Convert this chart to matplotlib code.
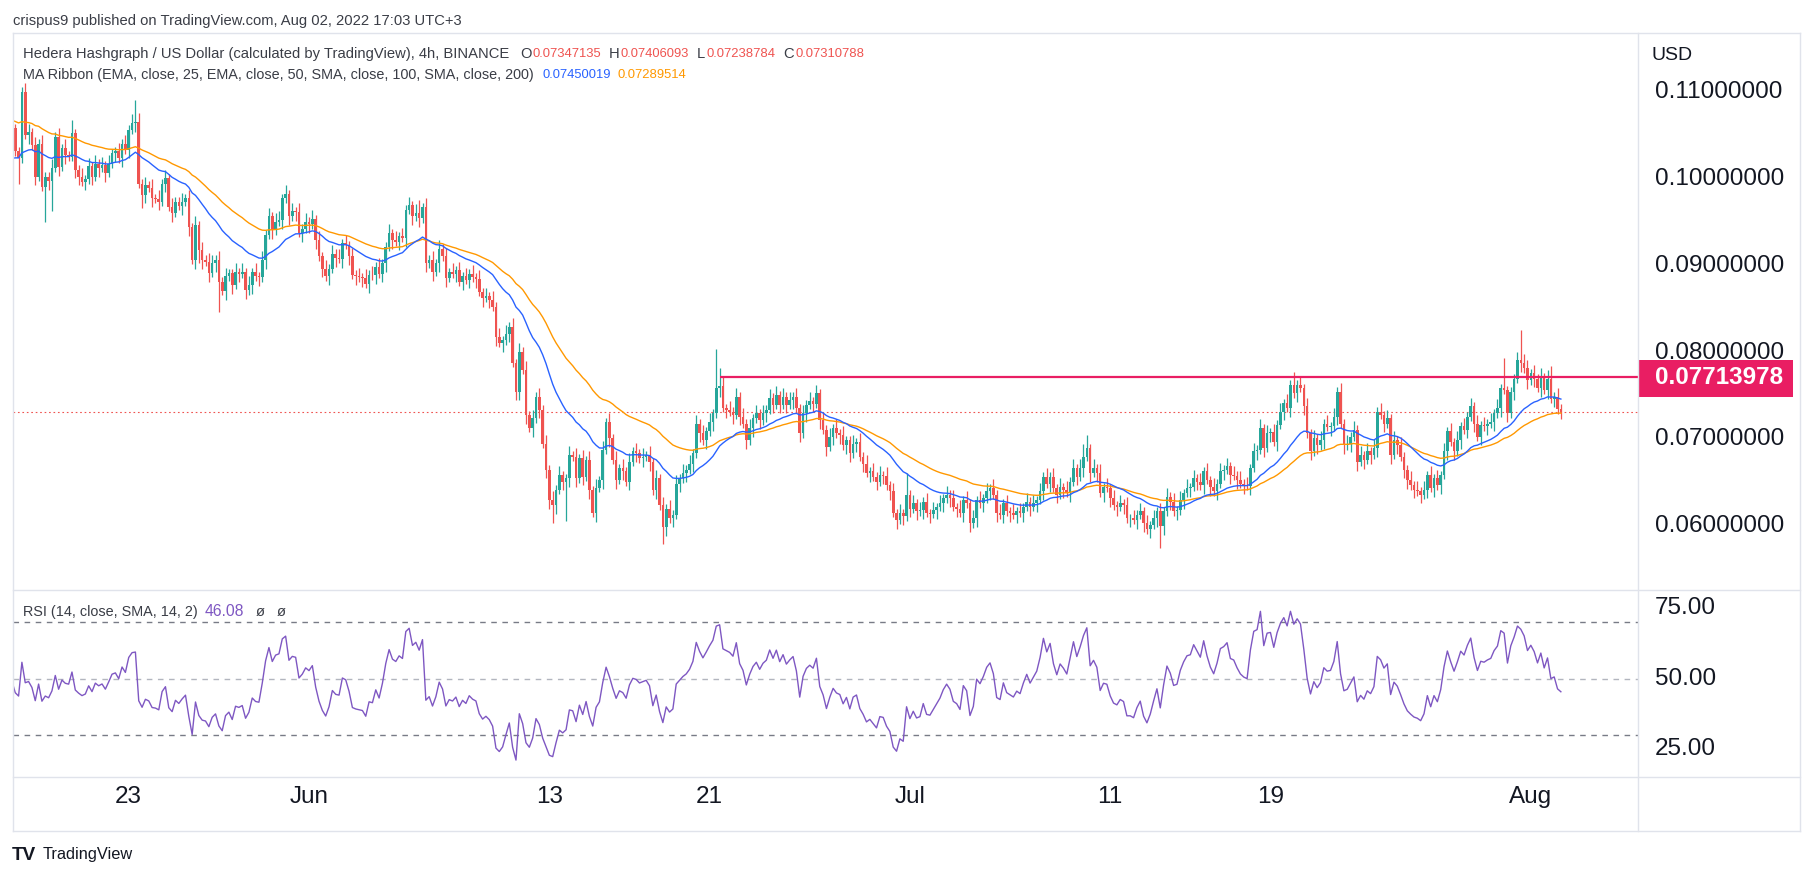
import numpy as np
import matplotlib
matplotlib.use("Agg")
import matplotlib.pyplot as plt
import matplotlib.dates as mdates
from matplotlib.lines import Line2D
from matplotlib.patches import Rectangle
from datetime import datetime, timedelta

plt.rcParams['font.family'] = ['Liberation Sans', 'DejaVu Sans']

# ---------------- data (4h candles, HBAR/USD) ----------------
# closes in units of 0.0001 USD, one value per 4h candle
CLOSE_MAY = [1059, 1032, 1024, 1101, 1051, 1054, 1039, 1003, 1041, 991,
             1003, 998, 1013, 1049, 1014, 1036, 1028, 1026, 1053, 1011,
             1003, 997, 1000, 1015, 1003, 1018, 1013, 1016, 1007, 1018,
             1030, 1032, 1024, 1041, 1034, 1057, 1065, 1066, 995, 982,
             993, 990, 978, 977, 974, 995, 1001, 968, 961, 974,
             969, 974, 978, 945, 907, 947, 918, 907, 905, 892,
             903, 907, 882, 871, 888, 892, 878, 893, 891, 893,
             872, 878, 893, 888, 887, 907, 936, 957, 941, 951,
             953, 978]
CLOSE_JUN_A = [983, 957, 963, 962, 938, 943, 951, 948, 954, 930,
               911, 897, 888, 897, 914, 909, 908, 926, 924, 911,
               890, 888, 887, 886, 879, 890, 889, 899, 891, 903,
               922, 938, 930, 928, 934, 932, 965, 970, 957, 961,
               955, 968, 903, 907, 893, 903, 920, 911, 886, 893,
               891, 895, 882, 888, 884, 891, 887, 885, 870, 863,
               865, 861, 853, 818, 811, 814, 822, 830, 788, 755,
               801, 780, 728, 713, 724, 749, 734, 695, 665, 630,
               624, 642, 659, 651]
CLOSE_JUN_B = [655, 682, 680, 655, 678, 657, 676, 641, 615, 644,
               653, 688, 720, 701, 676, 653, 667, 663, 651, 674,
               686, 684, 678, 680, 682, 674, 641, 655, 624, 599,
               620, 609, 613, 649, 655, 661, 665, 672, 684, 718,
               707, 699, 709, 720, 730, 759, 762, 736, 734, 732,
               728, 749, 726, 718, 699, 713, 724, 730, 722, 730,
               734, 748, 740, 751, 740, 749, 740, 745, 749, 736,
               707, 730, 740, 744, 741, 753, 722, 711, 691, 703,
               713, 707, 705, 693, 699]
CLOSE_JUL_A = [684, 695, 697, 680, 672, 661, 663, 657, 651, 659,
               658, 647, 640, 615, 607, 615, 611, 636, 620, 626,
               617, 618, 628, 615, 614, 618, 622, 626, 632, 636,
               632, 622, 620, 615, 630, 626, 603, 609, 630, 626,
               632, 640, 644, 636, 615, 613, 626, 617, 615, 613,
               617, 615, 622, 628, 622, 626, 630, 640, 657, 649,
               657, 644, 636, 645, 642, 638, 651, 667, 657, 667,
               680, 690, 661, 667, 661, 638, 645, 644, 632, 624,
               622, 626, 624, 609]
CLOSE_JUL_B = [609, 607, 613, 617, 603, 596, 601, 609, 617, 600,
               617, 634, 628, 617, 618, 630, 638, 644, 645, 655,
               651, 647, 663, 653, 645, 640, 649, 663, 665, 669,
               659, 658, 653, 649, 647, 646, 667, 686, 688, 713,
               690, 707, 708, 697, 717, 732, 742, 736, 763, 753,
               763, 759, 738, 707, 686, 701, 693, 699, 718, 714,
               715, 726, 755, 718, 693, 695, 703, 711, 674, 682,
               676, 686, 682, 690, 732, 728, 718, 724, 682, 699,
               693, 680, 665]
CLOSE_JUL_C = [653, 647, 642, 640, 636, 642, 659, 644, 655, 647,
               659, 686, 709, 697, 686, 699, 715, 711, 726, 738,
               718, 703, 716, 715, 718, 720, 730, 736, 759, 757,
               730, 755, 770, 791, 788, 782, 768, 776, 770, 759,
               772, 757, 770, 747, 749, 734.7135, 731.0788]
OPEN_FIRST = 1064
LAST_HIGH = 0.07406093
LAST_LOW = 0.07238784
LAST_CANDLE = datetime(2022, 8, 2, 12)

# wick lengths per candle, in units of WICK_UNIT
WICK_UNIT = 0.0005
UPPER_WICK = ("6111221212 1121212131 1212121212 1121212521 2121212121 1212121212 2121211212 1212121212 21"
              "2121212121 2121212121 2121212121 1212121212 3121212121 2121212121 2121212121 2121212121 2121"
              "1212121212 1212121212 1212121212 1212121212 1212194212 1212121212 1212121212 1212121212 12121"
              "1212121212 1212121512 1212121212 1212121212 1212121212 1212121212 1212121212 3312121212 1212"
              "1212121212 1212121212 1212121212 1212121212 1212121213 1212121212 1212121212 1212121212 121"
              "1212121212 1212121212 1212121217 1112722121 2123121")
LOWER_WICK = ("1161121211 8271212112 2121212121 1212121213 2121212121 1212123212 1271212121 2121212121 12"
              "1212121212 1212121212 1212121212 2121212121 2121212121 1212121212 1212121212 2121212122 4212"
              "9212121212 1212121212 1212121214 2121212121 2121212121 2121212121 2121212121 2121212121 21212"
              "2121212121 2121212121 2121212121 2121212121 2121212121 2121212121 2121212121 2121212121 2121"
              "2121212125 2121212121 2121212121 2121212121 2121212121 2121212121 2121212121 2121212121 212"
              "2121212121 2121212121 2121212121 2121212121 2121212")

EMA25_START = 0.1024
EMA50_START = 0.1068
RSI_SEED_GAIN = 0.0012
RSI_SEED_LOSS = 0.0012
RESISTANCE = 0.07713978
RESISTANCE_FROM = datetime(2022, 6, 21, 12)
LAST_PRICE = 0.07310788

PRICE_TICKS = [0.06, 0.07, 0.08, 0.09, 0.10, 0.11]
RSI_TICKS = [25, 50, 75]
DATE_TICKS = [datetime(2022, 5, 23), datetime(2022, 6, 1), datetime(2022, 6, 13),
              datetime(2022, 6, 21), datetime(2022, 7, 1), datetime(2022, 7, 11),
              datetime(2022, 7, 19), datetime(2022, 8, 1)]
DATE_LABELS = ["23", "Jun", "13", "21", "Jul", "11", "19", "Aug"]

# ---------------- derived series ----------------
closes = np.array(CLOSE_MAY + CLOSE_JUN_A + CLOSE_JUN_B + CLOSE_JUL_A + CLOSE_JUL_B + CLOSE_JUL_C) / 1e4
n = len(closes)
times = [LAST_CANDLE - timedelta(hours=4 * (n - 1 - k)) for k in range(n)]
tnum = mdates.date2num(times)
opens = np.concatenate([[OPEN_FIRST / 1e4], closes[:-1]])
upw = np.array([int(c) for c in UPPER_WICK.replace(" ", "")], dtype=float)[:n] * WICK_UNIT
dnw = np.array([int(c) for c in LOWER_WICK.replace(" ", "")], dtype=float)[:n] * WICK_UNIT
if len(upw) < n:
    upw = np.concatenate([upw, np.full(n - len(upw), WICK_UNIT)])
if len(dnw) < n:
    dnw = np.concatenate([dnw, np.full(n - len(dnw), WICK_UNIT)])
highs = np.maximum(opens, closes) + upw
lows = np.minimum(opens, closes) - dnw
highs[-1] = LAST_HIGH
lows[-1] = LAST_LOW


def ema(values, length, start):
    a = 2.0 / (length + 1)
    out = np.empty_like(values)
    e = start
    for k, v in enumerate(values):
        if k > 0:
            e = e + a * (v - e)
        out[k] = e
    return out


ema25 = ema(closes, 25, EMA25_START)
ema50 = ema(closes, 50, EMA50_START)

chg = np.diff(np.concatenate([[opens[0]], closes]))
ag, al = RSI_SEED_GAIN, RSI_SEED_LOSS
rsi = np.empty(n)
for k in range(n):
    g = max(chg[k], 0.0)
    l = max(-chg[k], 0.0)
    ag += (g - ag) / 14.0
    al += (l - al) / 14.0
    rsi[k] = 100 - 100 / (1 + ag / al)

# ---------------- layout ----------------
W, H = 1813, 876
fig = plt.figure(figsize=(W / 100, H / 100), dpi=100)
fig.patch.set_facecolor("white")


def fx(px):
    return px / W


def fy(py):
    return 1 - py / H


L, R = 12.7, 1638.0
TOP, MID, BOT, AXB = 33.3, 590.0, 777.0, 831.0
ax = fig.add_axes([fx(L), fy(MID), (R - L) / W, (MID - TOP) / H])
axr = fig.add_axes([fx(L), fy(BOT), (R - L) / W, (BOT - MID) / H])

jun1 = mdates.date2num(datetime(2022, 6, 1))
PX_PER_DAY = 20.03
X_JUN1 = 309.0
xlim = (jun1 + (L - X_JUN1) / PX_PER_DAY, jun1 + (R - X_JUN1) / PX_PER_DAY)
for a in (ax, axr):
    a.set_xlim(*xlim)
    a.set_axis_off()
ax.set_ylim(0.06 - (MID - 526) / 8670, 0.06 + (526 - TOP) / 8670)
axr.set_ylim(50 - (BOT - 678.8) / 2.825, 50 + (678.8 - MID) / 2.825)

GREEN, RED = "#26a69a", "#ef5350"
cols = np.where(closes >= opens, GREEN, RED)
bw = 0.78 * 4 / 24
ax.vlines(tnum, lows, highs, colors=cols, lw=0.9, zorder=2)
hgt = np.maximum(np.abs(closes - opens), 0.00005)
ax.bar(tnum, hgt, bottom=np.minimum(opens, closes), width=bw, color=cols, linewidth=0, zorder=3)
ax.plot(tnum, ema50, color="#ff9800", lw=1.0, zorder=4)
ax.plot(tnum, ema25, color="#2962ff", lw=1.0, zorder=4)

# last price dotted line and resistance line
ax.axhline(LAST_PRICE, color=RED, lw=0.8, ls=(0, (1.5, 2.5)), zorder=1)
ax.plot([mdates.date2num(RESISTANCE_FROM), xlim[1]], [RESISTANCE, RESISTANCE],
        color="#e91e63", lw=1.6, zorder=5, solid_capstyle="butt")

# RSI panel
axr.plot(tnum, rsi, color="#7e57c2", lw=1.0, zorder=3)
axr.axhline(70, color="#787b86", lw=1.0, ls=(0, (4, 4)), zorder=1)
axr.axhline(30, color="#787b86", lw=1.0, ls=(0, (4, 4)), zorder=1)
axr.axhline(50, color="#b2b5be", lw=1.0, ls=(0, (4, 4)), zorder=1)

# frame lines
FRAME = "#e0e3eb"
for (x0, y0, x1, y1) in [(L, TOP, 1800, TOP), (L, AXB, 1800, AXB), (L, TOP, L, AXB),
                         (1800, TOP, 1800, AXB), (L, MID, 1800, MID), (L, BOT, 1800, BOT),
                         (R, TOP, R, AXB)]:
    fig.add_artist(Line2D([fx(x0), fx(x1)], [fy(y0), fy(y1)], transform=fig.transFigure,
                          color=FRAME, lw=1.0))

TXT = "#131722"
AX_FS = 17.5
lab_x = (1655 - L) / (R - L)
for p in PRICE_TICKS:
    ax.text(lab_x, p, f"{p:.8f}", transform=ax.get_yaxis_transform(), ha="left", va="center",
            fontsize=AX_FS, color=TXT, clip_on=False, zorder=6)
ax.add_patch(Rectangle((fx(R), fy(397)), (1793 - R) / W, 37 / H, transform=fig.transFigure,
                       facecolor="#e91e63", edgecolor="none", clip_on=False, zorder=10))
ax.text(lab_x, RESISTANCE, f"{RESISTANCE:.8f}", transform=ax.get_yaxis_transform(), ha="left",
        va="center", fontsize=AX_FS, color="white", weight="bold", clip_on=False, zorder=11)
for v in RSI_TICKS:
    axr.text(lab_x, v, f"{v:.2f}", transform=axr.get_yaxis_transform(), ha="left", va="center",
             fontsize=AX_FS, color=TXT, clip_on=False)
date_y = (BOT - 797) / (BOT - MID)
for d, s in zip(DATE_TICKS, DATE_LABELS):
    axr.text(mdates.date2num(d), date_y, s, transform=axr.get_xaxis_transform(), ha="center",
             va="center", fontsize=AX_FS, color=TXT, clip_on=False)

fig.text(fx(1672), fy(55), "USD", ha="center", va="center", fontsize=14, color=TXT)

# ---------------- header texts ----------------
renderer = fig.canvas.get_renderer()


def ftext(x, y, s, size, color, **kw):
    return fig.text(fx(x), fy(y), s, fontsize=size, color=color, ha="left", va="center", **kw)


def wpx(t):
    return t.get_window_extent(renderer).width


def fit(t, target):
    t.set_fontsize(t.get_fontsize() * target / wpx(t))


HDR = "#3a3d46"
t0 = ftext(13.3, 20.7, "crispus9 published on TradingView.com, Aug 02, 2022 17:03 UTC+3", 10, HDR)
fit(t0, 446)

t1 = ftext(23.3, 54.3, "Hedera Hashgraph / US Dollar (calculated by TradingView), 4h, BINANCE", 10, HDR)
fit(t1, 485)
hs = t1.get_fontsize()


def seq(x, y, parts):
    # parts: (text, colour, gap after, target width or None)
    for s, c, gap, tw in parts:
        t = ftext(x, y, s, hs, c)
        if tw:
            fit(t, tw)
        x += wpx(t) + gap


VW = 69
seq(520, 54.3, [("O", HDR, 1, None), ("0.07347135", RED, 8, VW),
                ("H", HDR, 1, None), ("0.07406093", RED, 8, VW),
                ("L", HDR, 1, None), ("0.07238784", RED, 8, VW),
                ("C", HDR, 1, None), ("0.07310788", RED, 0, VW)])
seq(23.3, 75, [("MA Ribbon (EMA, close, 25, EMA, close, 50, SMA, close, 100, SMA, close, 200)", HDR, 8, 512),
               ("0.07450019", "#2962ff", 7, VW), ("0.07289514", "#ff9800", 0, VW)])
seq(23.3, 611.7, [("RSI (14, close, SMA, 14, 2)", HDR, 7, 175), ("46.08", "#7e57c2", 11, 39.5),
                  ("ø", HDR, 12, None), ("ø", HDR, 0, None)])

tl = ftext(11.6, 855, "TV", 11, TXT, weight="bold")
fit(tl, 24)
tw = ftext(42.8, 855, "TradingView", 11, TXT)
fit(tw, 90)

fig.savefig("out.png", dpi=100, facecolor="white")
